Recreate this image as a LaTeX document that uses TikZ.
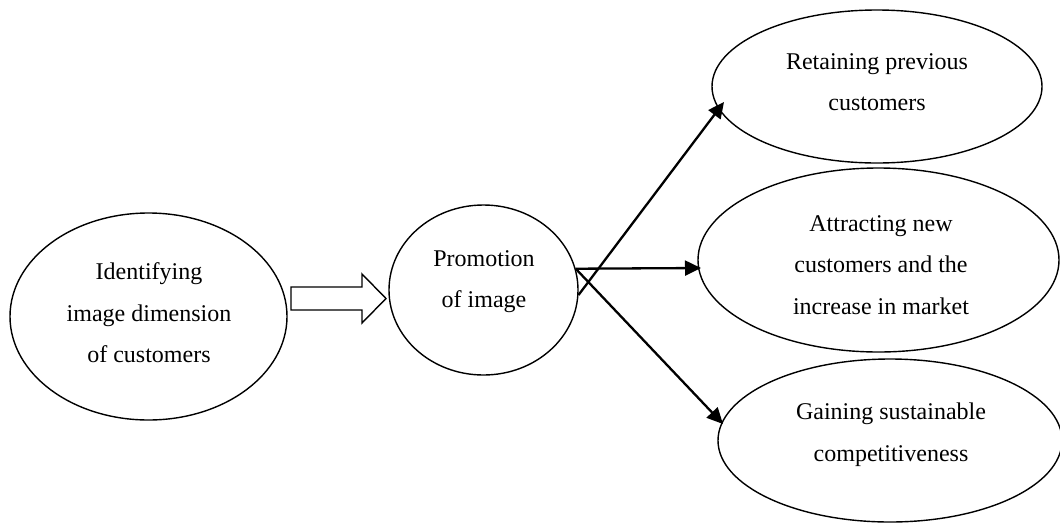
\documentclass[tikz,border=0pt]{standalone}
\usepackage{fontspec}
\setmainfont{Liberation Serif}
\usetikzlibrary{shapes.geometric,arrows.meta}
\tikzset{
  oval/.style={draw=black, line width=1.4pt, shape=ellipse, inner sep=0pt, fill=none},
  txt/.style={align=center, inner sep=0pt, font=\fontsize{24}{41.5}\selectfont},
  conn/.style={draw=black, line width=2.3pt, -{Triangle[length=16pt,width=15pt]}},
  blockarrow/.style={draw=black, line width=1.4pt, line join=miter, fill=white}
}
\begin{document}
\begin{tikzpicture}[x=1pt,y=-1pt]
\useasboundingbox (0,0) rectangle (1060,523);
% ellipses
\node[oval, minimum width=277pt, minimum height=207pt] (ident) at (148.5,316.5) {};
\node[oval, minimum width=189pt, minimum height=170pt] (prom) at (483.5,290) {};
\node[oval, minimum width=330pt, minimum height=153pt] (ret) at (877,86.5) {};
\node[oval, minimum width=361pt, minimum height=184pt] (att) at (878.5,260) {};
\node[oval, minimum width=344pt, minimum height=163pt] (gain) at (890,440.5) {};
% texts
\node[txt] (identtxt) at (149,313) {Identifying\\image dimension\\of customers};
\node[txt] (promtxt) at (484,281.7) {Promotion\\of image};
\node[txt] (rettxt) at (877,82.3) {Retaining previous\\customers};
\node[txt] (atttxt) at (881,264.8) {Attracting new\\customers and the\\increase in market};
\node[txt] (gaintxt) at (891,434.9) {Gaining sustainable\\competitiveness};
% block arrow
\coordinate (ba) at (291,298.5);
\draw[blockarrow] (ba) ++(0,-11.5) -- ++(71,0) -- ++(0,-13) -- ++(24,24.5) -- ++(-24,24.5) -- ++(0,-13) -- ++(-71,0) -- cycle;
% connectors
\coordinate (tipret) at (724,102);
\coordinate (tipatt) at (701,268);
\coordinate (tipgain) at (723,424);
\draw[conn] (prom.-3) -- (tipret);
\draw[conn] (prom.13.5) -- (tipatt);
\draw[conn] (prom.13.5) -- (tipgain);
\end{tikzpicture}
\end{document}
